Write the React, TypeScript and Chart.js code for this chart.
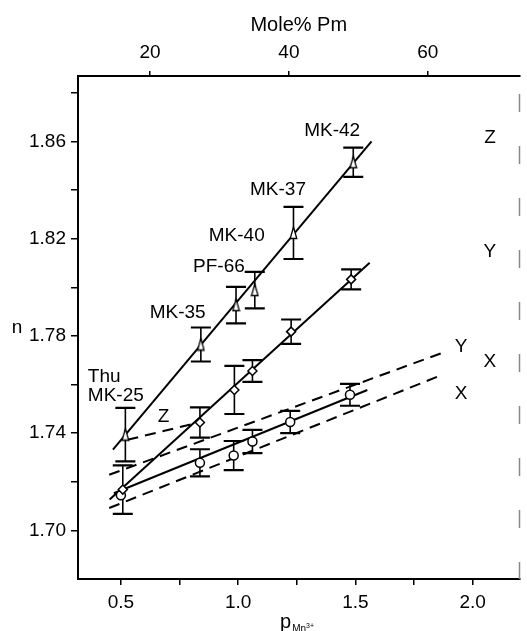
import React, { useEffect, useRef } from "react";
import { Chart, registerables } from "chart.js";

Chart.register(...registerables);

// ---------- data ----------
// triangles (upper series)
const triX = [0.519, 0.841, 0.991, 1.071, 1.236, 1.491];
const triY = [1.7394, 1.7765, 1.7927, 1.7989, 1.8224, 1.8515];
const triErr = [0.011, 0.007, 0.0075, 0.0075, 0.0107, 0.006];

// diamonds (middle series)
const diaX = [0.508, 0.837, 0.984, 1.061, 1.226, 1.482];
const diaY = [1.7168, 1.7444, 1.7578, 1.7656, 1.7818, 1.8033];
const diaErr = [0.01, 0.0062, 0.0099, 0.0045, 0.005, 0.0041];

// circles (lower series)
const circX = [0.5, 0.837, 0.981, 1.061, 1.222, 1.477];
const circY = [1.7145, 1.7278, 1.7308, 1.7366, 1.7446, 1.7558];
const circErr = [0, 0.0056, 0.006, 0.0048, 0.0046, 0.0045];

// solid regression lines (end points)
const triFitX = [0.466, 1.569];
const triFitY = [1.7332, 1.8601];
const diaFitX = [0.452, 1.561];
const diaFitY = [1.7127, 1.8101];
const circFitX = [0.47, 1.551];
const circFitY = [1.7153, 1.7578];

// dashed reference lines
const zDashX = [0.528, 0.823];
const zDashY = [1.7373, 1.7442];
const yDashX = [0.45, 1.866];
const yDashY = [1.7229, 1.7729];
const xDashX = [0.45, 1.859];
const xDashY = [1.7092, 1.7636];

// axis ranges / ticks
const xRange = [0.317, 2.2];
const yRange = [1.68, 1.887];
const xTicks = [0.5, 0.75, 1.0, 1.25, 1.5, 1.75, 2.0];
const xTickLabels = ["0.5", "", "1.0", "", "1.5", "", "2.0"];
const yTicks = [1.7, 1.72, 1.74, 1.76, 1.78, 1.8, 1.82, 1.84, 1.86, 1.88];
const yTickLabels = ["1.70", "", "1.74", "", "1.78", "", "1.82", "", "1.86", ""];
const molTicks = [20, 40, 60];
const molSlope = 33.76; // Mole% Pm per unit p(Mn3+)
const molOffset = -1.07;

// text annotations (data coordinates)
const noteText = ["Thu", "MK-25", "MK-35", "PF-66", "MK-40", "MK-37", "MK-42", "Z", "Y", "X", "Z", "Y", "X"];
const noteX = [0.359, 0.359, 0.742, 0.918, 0.994, 1.17, 1.401, 0.682, 1.951, 1.951, 2.074, 2.074, 2.074];
const noteY = [1.7632, 1.7554, 1.7894, 1.8084, 1.8214, 1.8403, 1.8645, 1.7468, 1.7755, 1.7562, 1.8616, 1.8145, 1.7693];
const noteAlign = ["left", "left", "center", "center", "center", "center", "center", "center", "center", "center", "center", "center", "center"];

const FONT = '"Liberation Sans", Arial, Helvetica, sans-serif';

const pts = (xs: number[], ys: number[]) => xs.map((x, i) => ({ x, y: ys[i] }));

function makeTriangle(): HTMLCanvasElement {
  const c = document.createElement("canvas");
  c.width = 9;
  c.height = 14;
  const g = c.getContext("2d")!;
  g.fillStyle = "#fff";
  g.strokeStyle = "#000";
  g.lineWidth = 1.3;
  g.beginPath();
  g.moveTo(4.5, 1);
  g.lineTo(7.8, 12.5);
  g.lineTo(1.2, 12.5);
  g.closePath();
  g.fill();
  g.stroke();
  return c;
}

const errorSeries = [
  { x: triX, y: triY, e: triErr },
  { x: diaX, y: diaY, e: diaErr },
  { x: circX, y: circY, e: circErr },
];

const errorBarPlugin = {
  id: "errorBars",
  beforeDatasetsDraw(chart: any) {
    const ctx = chart.ctx as CanvasRenderingContext2D;
    const xs = chart.scales.x;
    const ys = chart.scales.y;
    ctx.save();
    ctx.strokeStyle = "#000";
    for (const s of errorSeries) {
      s.x.forEach((xv, i) => {
        const e = s.e[i];
        if (!e) return;
        const px = xs.getPixelForValue(xv);
        const top = ys.getPixelForValue(s.y[i] + e);
        const bot = ys.getPixelForValue(s.y[i] - e);
        ctx.lineWidth = 1.6;
        ctx.beginPath();
        ctx.moveTo(px, top);
        ctx.lineTo(px, bot);
        ctx.stroke();
        ctx.lineWidth = 2.2;
        ctx.beginPath();
        ctx.moveTo(px - 10, top);
        ctx.lineTo(px + 10, top);
        ctx.moveTo(px - 10, bot);
        ctx.lineTo(px + 10, bot);
        ctx.stroke();
      });
    }
    ctx.restore();
  },
};

const notesPlugin = {
  id: "notes",
  afterDatasetsDraw(chart: any) {
    const ctx = chart.ctx as CanvasRenderingContext2D;
    const xs = chart.scales.x;
    const ys = chart.scales.y;
    const area = chart.chartArea;
    ctx.save();
    // faint, broken right-hand frame (as in the scanned figure)
    ctx.strokeStyle = "#888";
    ctx.lineWidth = 1.5;
    ctx.setLineDash([18, 34]);
    ctx.beginPath();
    ctx.moveTo(area.right, area.top + 18);
    ctx.lineTo(area.right, area.bottom);
    ctx.stroke();
    ctx.setLineDash([]);

    ctx.fillStyle = "#000";
    ctx.font = `19px ${FONT}`;
    ctx.textBaseline = "middle";
    noteText.forEach((t, i) => {
      const px = xs.getPixelForValue(noteX[i]);
      const py = ys.getPixelForValue(noteY[i]);
      ctx.textAlign = noteAlign[i] as CanvasTextAlign;
      ctx.fillText(t, px, py);
      if (t === "PF-66") {
        const w = ctx.measureText(t).width;
        ctx.strokeStyle = "#000";
        ctx.lineWidth = 1.2;
        ctx.beginPath();
        ctx.moveTo(px + w / 2, py + 5);
        ctx.lineTo(px + w / 2 + 10, py + 5);
        ctx.stroke();
      }
    });
    // y-axis symbol "n"
    ctx.textAlign = "center";
    ctx.fillText("n", 17, ys.getPixelForValue(1.78) - 8);
    // x-axis title p with subscript Mn3+
    const cx = (area.left + area.right) / 2;
    ctx.textBaseline = "alphabetic";
    ctx.textAlign = "left";
    ctx.font = `20px ${FONT}`;
    const pw = ctx.measureText("p").width;
    ctx.font = `10px ${FONT}`;
    const sw = ctx.measureText("Mn3+").width;
    const x0 = cx - (pw + 1 + sw) / 2;
    ctx.font = `20px ${FONT}`;
    ctx.fillText("p", x0, 628);
    ctx.font = `10px ${FONT}`;
    ctx.fillText("Mn", x0 + pw + 1, 632);
    const mw = ctx.measureText("Mn").width;
    ctx.font = `7px ${FONT}`;
    ctx.fillText("3+", x0 + pw + 1 + mw, 628);
    ctx.restore();
  },
};

export default function App() {
  const ref = useRef<HTMLCanvasElement | null>(null);

  useEffect(() => {
    if (!ref.current) return;
    const tri = makeTriangle();
    const lineDs = (xs: number[], ys: number[], dash: number[]) => ({
      type: "line" as const,
      data: pts(xs, ys),
      borderColor: "#000",
      borderWidth: 2,
      borderDash: dash,
      pointRadius: 0,
      fill: false,
      order: 2,
    });
    const markDs = (xs: number[], ys: number[], style: any, r: number) => ({
      type: "scatter" as const,
      data: pts(xs, ys),
      pointStyle: style,
      pointRadius: r,
      pointBorderWidth: 1.5,
      pointBorderColor: "#000",
      pointBackgroundColor: "#fff",
      showLine: false,
      order: 1,
    });
    const axisFont = { family: FONT, size: 19 };
    const chart = new Chart(ref.current, {
      type: "scatter",
      data: {
        datasets: [
          lineDs(triFitX, triFitY, []),
          lineDs(diaFitX, diaFitY, []),
          lineDs(circFitX, circFitY, []),
          lineDs(zDashX, zDashY, [11, 7]),
          lineDs(yDashX, yDashY, [11, 7]),
          lineDs(xDashX, xDashY, [11, 7]),
          markDs(triX, triY, tri, 6),
          markDs(diaX, diaY, "rectRot", 4.5),
          markDs(circX, circY, "circle", 4.5),
        ] as any,
      },
      options: {
        responsive: false,
        animation: false,
        devicePixelRatio: 1,
        layout: { padding: { left: 0, top: 0, bottom: 0, right: 1 } },
        plugins: { legend: { display: false }, tooltip: { enabled: false }, title: { display: false } },
        scales: {
          x: {
            type: "linear",
            position: "bottom",
            min: xRange[0],
            max: xRange[1],
            afterBuildTicks: (s: any) => {
              s.ticks = xTicks.map((v) => ({ value: v }));
            },
            afterFit: (s: any) => {
              s.height = 52;
              s.paddingLeft = 0;
              s.paddingRight = 0;
            },
            ticks: {
              autoSkip: false,
              maxRotation: 0,
              color: "#000",
              font: axisFont,
              padding: 6,
              callback: (_v: any, i: number) => xTickLabels[i],
            },
            grid: { drawOnChartArea: false, drawTicks: true, tickLength: 6, color: "#000", lineWidth: 1.5 },
            border: { display: true, color: "#000", width: 2 },
          },
          x2: {
            type: "linear",
            position: "top",
            min: xRange[0] * molSlope + molOffset,
            max: xRange[1] * molSlope + molOffset,
            afterBuildTicks: (s: any) => {
              s.ticks = molTicks.map((v) => ({ value: v }));
            },
            afterFit: (s: any) => {
              s.height = 76;
              s.paddingLeft = 0;
              s.paddingRight = 0;
            },
            ticks: {
              autoSkip: false,
              maxRotation: 0,
              color: "#000",
              font: axisFont,
              padding: 7,
              callback: (v: any) => String(v),
            },
            title: {
              display: true,
              text: "Mole% Pm",
              color: "#000",
              font: { family: FONT, size: 20 },
              padding: { top: 13, bottom: 0 },
            },
            grid: { drawOnChartArea: false, drawTicks: true, tickLength: 5, color: "#000", lineWidth: 1.5 },
            border: { display: true, color: "#000", width: 2 },
          },
          y: {
            type: "linear",
            position: "left",
            min: yRange[0],
            max: yRange[1],
            afterBuildTicks: (s: any) => {
              s.ticks = yTicks.map((v) => ({ value: v }));
            },
            afterFit: (s: any) => {
              s.width = 78;
            },
            ticks: {
              autoSkip: false,
              color: "#000",
              font: axisFont,
              padding: 5,
              callback: (_v: any, i: number) => yTickLabels[i],
            },
            grid: { drawOnChartArea: false, drawTicks: true, tickLength: 7, color: "#000", lineWidth: 1.5 },
            border: { display: true, color: "#000", width: 2 },
          },
        },
      } as any,
      plugins: [errorBarPlugin, notesPlugin],
    });
    return () => chart.destroy();
  }, []);

  return (
    <div style={{ position: "fixed", left: 0, top: 0, width: 527, height: 631, background: "#fff" }}>
      <canvas ref={ref} width={527} height={631} style={{ display: "block" }} />
    </div>
  );
}
